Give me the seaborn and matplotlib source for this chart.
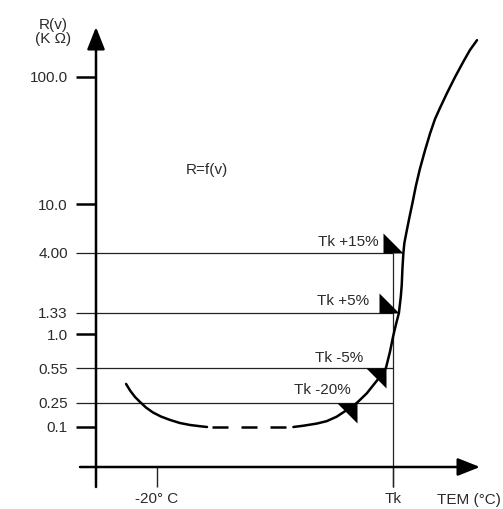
import numpy as np
import pandas as pd
import matplotlib
matplotlib.use("Agg")
import matplotlib.pyplot as plt
import seaborn as sns

# resistance R(v) in kOhm against temperature (Tk put at 80)
temp_left = [-33.1, -31.4, -29.3, -27.2, -24.7, -21.7, -18.3, -14.5, -10.3,
             -6.0, -1.8, 1.2]
r_left = [0.384, 0.331, 0.286, 0.256, 0.211, 0.174, 0.149, 0.131, 0.1165,
          0.108, 0.103, 0.100]
temp_dash = [3.3, 34.7]
r_dash = [0.100, 0.100]
temp_right = [37.8, 42.0, 47.7, 51.9, 56.1, 60.4, 63.2, 66.0, 68.9, 71.7, 74.5,
              77.0, 78.7, 80.0, 81.3, 82.5, 83.3, 83.7, 84.0, 84.4, 84.8, 85.8,
              86.9, 88.2, 89.7, 91.4, 93.6, 95.7, 97.8, 99.9, 102.9, 106.3,
              109.7, 112.6, 115.6]
r_right = [0.100, 0.105, 0.114, 0.125, 0.148, 0.191, 0.223, 0.268, 0.311, 0.375,
           0.452, 0.55, 0.729, 0.95, 1.146, 1.33, 1.79, 2.22, 3.0, 4.0, 4.80,
           6.04, 7.69, 10.1, 13.9, 18.9, 26.6, 35.9, 46.7, 57.0, 74.8, 100.0,
           131.0, 163.0, 195.0]

tk = 80.0
major_vals = [100.0, 10.0, 1.0, 0.1]
major_labels = ["100.0", "10.0", "1.0", "0.1"]
tol_levels = [4.0, 1.33, 0.55, 0.25]
tol_level_labels = ["4.00", "1.33", "0.55", "0.25"]
tol_labels = ["Tk +15%", "Tk +5%", "Tk -5%", "Tk -20%"]
x_ticks = [-20.0, tk]
x_tick_labels = ["-20° C", "Tk"]

# the drawing's R axis is not a clean log axis: piecewise on log10(R)
axis_vals = [0.001, 0.01, 0.1, 0.25, 0.55, 1.0, 1.33, 4.0, 10.0, 100.0, 1000.0]
axis_px = [547, 487, 427, 403, 368, 334, 313, 253, 204, 77, -50]
log_anchor = np.log10(axis_vals)
pos_anchor = -np.array(axis_px, dtype=float)


def fwd(v):
    v = np.clip(np.asarray(v, dtype=float), 1e-9, None)
    return np.interp(np.log10(v), log_anchor, pos_anchor)


def inv(p):
    return 10 ** np.interp(np.asarray(p, dtype=float), pos_anchor, log_anchor)


def t_at(px):
    return -20 + (px - 157) / 2.36


W, H = 503, 509
sns.set_theme(style="white")
plt.rcParams["font.family"] = ["Liberation Sans", "DejaVu Sans"]
txt_col = "#2b2b2b"

fig = plt.figure(figsize=(W / 100, H / 100), dpi=100)
ax = fig.add_axes([80 / W, 1 - 487 / H, 400 / W, 460 / H])
ax.set_yscale("function", functions=(fwd, inv))
ax.set_xlim(t_at(80), t_at(480))
ax.set_ylim(float(inv(-487)), float(inv(-27)))
y_axis_t = t_at(96)
x_axis_r = float(inv(-467))

for s in ax.spines.values():
    s.set_visible(False)
ax.spines["left"].set_position(("data", y_axis_t))
ax.spines["bottom"].set_position(("data", x_axis_r))

# tolerance levels and the Tk line
ax.hlines(tol_levels, y_axis_t, tk, color="#222222", lw=0.9)
ax.vlines(tk, float(inv(-487)), max(tol_levels), color="#222222", lw=0.9, clip_on=False)

# the R(T) curve
df_l = pd.DataFrame({"T": temp_left, "R": r_left})
df_d = pd.DataFrame({"T": temp_dash, "R": r_dash})
df_r = pd.DataFrame({"T": temp_right, "R": r_right})
sns.lineplot(data=df_l, x="T", y="R", color="black", lw=1.8, estimator=None, ax=ax)
sns.lineplot(data=df_d, x="T", y="R", color="black", lw=1.8, estimator=None,
             linestyle=(0, (6.4, 5.2)), ax=ax)
sns.lineplot(data=df_r, x="T", y="R", color="black", lw=1.8, estimator=None, ax=ax)
ax.set_xlabel("")
ax.set_ylabel("")

ax.set_yticks(major_vals, major_labels)
ax.set_yticks(tol_levels, tol_level_labels, minor=True)
ax.set_xticks(x_ticks, x_tick_labels)
ax.tick_params(axis="y", which="major", length=14.4, width=1.8, pad=5.8,
               labelsize=11, labelcolor=txt_col, color="black", left=True)
ax.tick_params(axis="y", which="minor", length=14.4, width=0.9, pad=5.8,
               labelsize=11, labelcolor=txt_col, color="#222222", left=True)
ax.tick_params(axis="x", which="major", length=14.4, width=1.0, pad=3.6,
               labelsize=11, labelcolor=txt_col, color="#222222", bottom=True)
ax.grid(False)

# tolerance arrow heads where the curve crosses each level
corner_up = [(0, 0), (-1, 0), (-1, 1), (0, 0)]
corner_down = [(0, 0), (-1, 0), (0, -1), (0, 0)]
shapes = [corner_up, corner_up, corner_down, corner_down]
label_off = [(-18, 8), (-21.6, 8.6), (-16.6, 7.2), (-5, 9.4)]
for lvl, lab, shp, off in zip(tol_levels, tol_labels, shapes, label_off):
    t_cross = np.interp(np.log10(lvl), np.log10(r_right), temp_right)
    ax.plot([t_cross], [lvl], marker=shp, markersize=28.8, color="black",
            markeredgewidth=0, linestyle="none", clip_on=False)
    ax.annotate(lab, xy=(t_cross, lvl), xytext=off, textcoords="offset points",
                ha="right", va="center", fontsize=11, color=txt_col)

# axes with arrow heads
arrow = dict(arrowstyle="-|>,head_length=0.68,head_width=0.27", color="black",
             lw=1.8, shrinkA=0, shrinkB=0, mutation_scale=20)
ax.annotate("", xy=(y_axis_t, 1), xytext=(y_axis_t, 0),
            xycoords=ax.get_xaxis_transform(), arrowprops=arrow)
ax.annotate("", xy=(1, x_axis_r), xytext=(0, x_axis_r),
            xycoords=ax.get_yaxis_transform(), arrowprops=arrow)

fig.text(53 / W, 1 - 32 / H, "R(v)\n(K Ω)", ha="center", va="center",
         fontsize=11, linespacing=1.05, color=txt_col)
fig.text(207 / W, 1 - 170 / H, "R=f(v)", ha="center", va="center",
         fontsize=11, color=txt_col)
fig.text(469 / W, 1 - 500 / H, "TEM (°C)", ha="center", va="center",
         fontsize=11, color=txt_col)

fig.savefig("out.png", dpi=100)
